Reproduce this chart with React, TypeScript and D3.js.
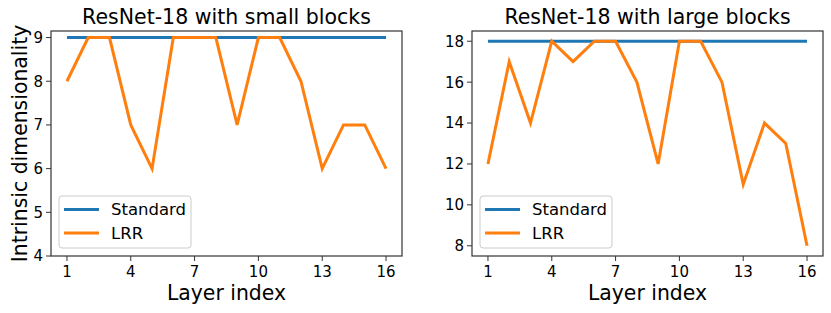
import * as d3 from "d3";

// layer indices on the x axis
const layers = d3.range(1, 17);
const xTicks = [1, 4, 7, 10, 13, 16];

// small blocks panel
const smallStandard = [9, 9, 9, 9, 9, 9, 9, 9, 9, 9, 9, 9, 9, 9, 9, 9];
const smallLRR = [8, 9, 9, 7, 6, 9, 9, 9, 7, 9, 9, 8, 6, 7, 7, 6];
const smallYTicks = [4, 5, 6, 7, 8, 9];

// large blocks panel
const largeStandard = [18, 18, 18, 18, 18, 18, 18, 18, 18, 18, 18, 18, 18, 18, 18, 18];
const largeLRR = [12, 17, 14, 18, 17, 18, 18, 16, 12, 18, 18, 16, 11, 14, 13, 8];
const largeYTicks = [8, 10, 12, 14, 16, 18];

const seriesNames = ["Standard", "LRR"];
const colors = ["#1f77b4", "#ff7f0e"];

const W = 831;
const H = 313;
const font = "DejaVu Sans, sans-serif";

function Panel({ left, right, title, standard, lrr, yDomain, yTicks, ylabel }) {
  const top = 31;
  const bottom = 256;

  let x = d3.scaleLinear().domain([0.25, 16.75]).range([left, right]);
  let y = d3.scaleLinear().domain(yDomain).range([bottom, top]);

  let line = d3
    .line<number>()
    .x((_, i) => x(layers[i]))
    .y((d) => y(d));

  let legX = left + 8;
  let legY = 196;

  return (
    <g>
      <text
        x={(left + right) / 2}
        y={24}
        textAnchor="middle"
        fontSize={20.5}
        fill="#000"
      >
        {title}
      </text>

      <path d={line(standard)} fill="none" stroke={colors[0]} strokeWidth={3} />
      <path d={line(lrr)} fill="none" stroke={colors[1]} strokeWidth={3} />

      {/* frame */}
      <rect
        x={left}
        y={top}
        width={right - left}
        height={bottom - top}
        fill="none"
        stroke="#333"
        strokeWidth={1.2}
      />

      {/* Y axis */}
      {yTicks.map((t) => (
        <g key={t} transform={`translate(0,${y(t)})`}>
          <line x1={left - 5} x2={left} stroke="#333" strokeWidth={1} />
          <text
            x={left - 8}
            dy="0.36em"
            textAnchor="end"
            fontSize={15}
            fill="#000"
          >
            {t}
          </text>
        </g>
      ))}

      {/* X axis */}
      {xTicks.map((t) => (
        <g key={t} transform={`translate(${x(t)},0)`}>
          <line y1={bottom} y2={bottom + 5} stroke="#333" strokeWidth={1} />
          <text y={276.5} textAnchor="middle" fontSize={15} fill="#000">
            {t}
          </text>
        </g>
      ))}

      <text
        x={(left + right) / 2}
        y={300}
        textAnchor="middle"
        fontSize={20.4}
        fill="#000"
      >
        Layer index
      </text>

      {ylabel && (
        <text
          transform={`translate(26.5,${(top + bottom) / 2}) rotate(-90)`}
          textAnchor="middle"
          fontSize={20.4}
          fill="#000"
        >
          {ylabel}
        </text>
      )}

      {/* Legend */}
      <rect
        x={legX}
        y={legY}
        width={132}
        height={52}
        rx={3}
        fill="#fff"
        fillOpacity={0.8}
        stroke="#ccc"
        strokeWidth={1}
      />
      {seriesNames.map((name, i) => (
        <g key={name} transform={`translate(${legX},${legY + 13.5 + i * 23.4})`}>
          <line x1={5} x2={40} stroke={colors[i]} strokeWidth={3} />
          <text x={52} dy="0.36em" fontSize={16.5} fill="#000">
            {name}
          </text>
        </g>
      ))}
    </g>
  );
}

export default function App() {
  return (
    <svg
      width={W}
      height={H}
      viewBox={`0 0 ${W} ${H}`}
      fontFamily={font}
      style={{ position: "absolute", left: 0, top: 0, background: "#fff" }}
    >
      <Panel
        left={51}
        right={402}
        title="ResNet-18 with small blocks"
        standard={smallStandard}
        lrr={smallLRR}
        yDomain={[4, 9.15]}
        yTicks={smallYTicks}
        ylabel="Intrinsic dimensionality"
      />
      <Panel
        left={472}
        right={823}
        title="ResNet-18 with large blocks"
        standard={largeStandard}
        lrr={largeLRR}
        yDomain={[7.5, 18.5]}
        yTicks={largeYTicks}
        ylabel={null}
      />
    </svg>
  );
}
